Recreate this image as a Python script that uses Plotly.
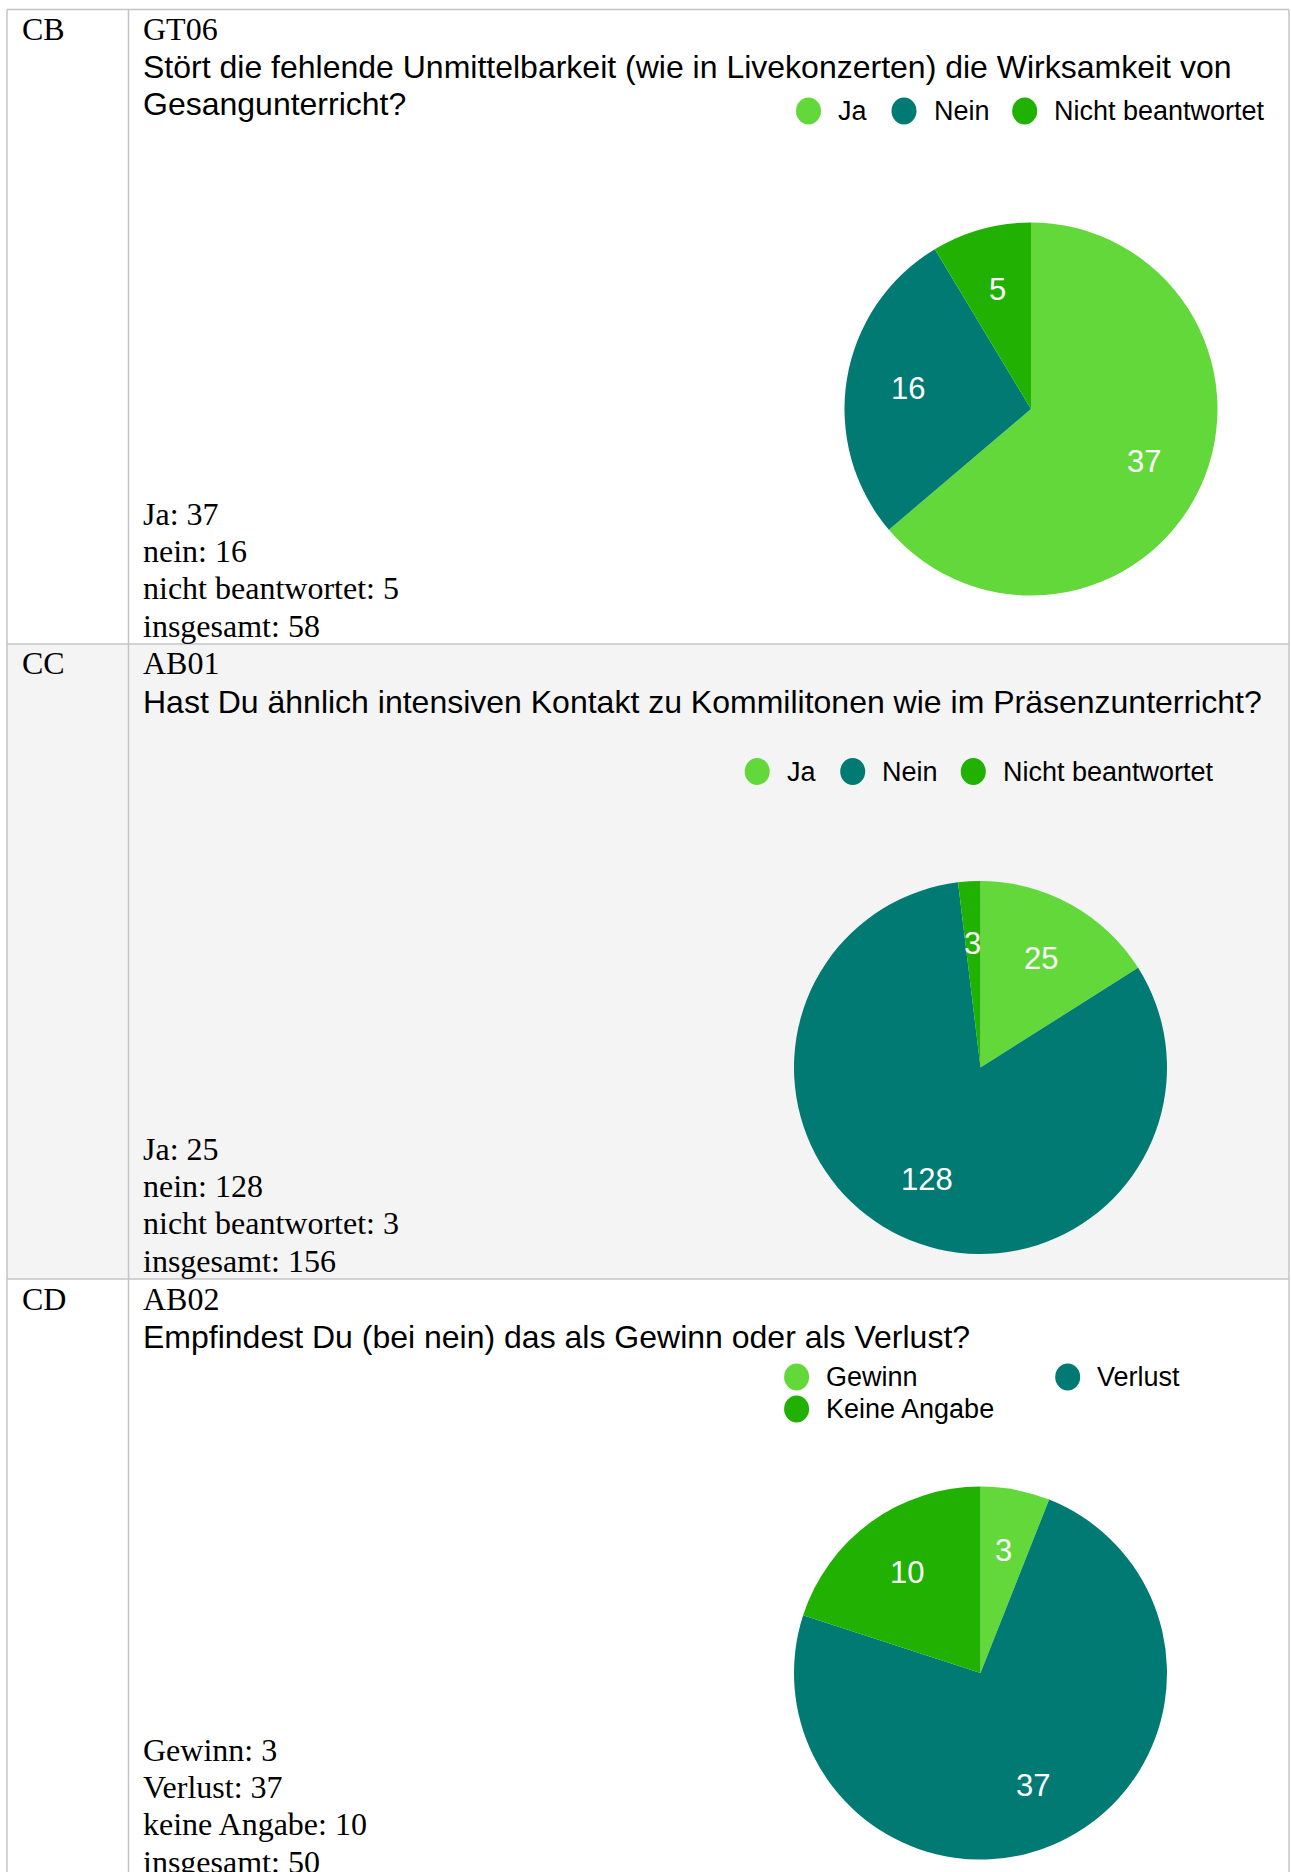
"""
Survey answer table: three questions, each with a summary and a pie chart.
"""

import math

import plotly.graph_objects as go

# Page size
W, H = 1291, 1872

SLICE_COLORS = ["#63d83a", "#007a73", "#20b103"]
GRID = "#c4c4c4"
ROW_SHADE = "#f4f4f4"
SANS = "Liberation Sans, Arial, Helvetica, sans-serif"
SERIF = "Liberation Serif, Times New Roman, serif"

# Data
row_ids = ["CB", "CC", "CD"]
question_codes = ["GT06", "AB01", "AB02"]
question_lines = [
    [
        "Stört die fehlende Unmittelbarkeit (wie in Livekonzerten) die Wirksamkeit von",
        "Gesangunterricht?",
    ],
    ["Hast Du ähnlich intensiven Kontakt zu Kommilitonen wie im Präsenzunterricht?"],
    ["Empfindest Du (bei nein) das als Gewinn oder als Verlust?"],
]

gt06_labels = ["Ja", "Nein", "Nicht beantwortet"]
gt06_values = [37, 16, 5]
ab01_labels = ["Ja", "Nein", "Nicht beantwortet"]
ab01_values = [25, 128, 3]
ab02_labels = ["Gewinn", "Verlust", "Keine Angabe"]
ab02_values = [3, 37, 10]

gt06_summary = ["Ja", "nein", "nicht beantwortet"]
ab01_summary = ["Ja", "nein", "nicht beantwortet"]
ab02_summary = ["Gewinn", "Verlust", "keine Angabe"]
total_label = "insgesamt"

slice_labels = [gt06_labels, ab01_labels, ab02_labels]
slice_values = [gt06_values, ab01_values, ab02_values]
summary_labels = [gt06_summary, ab01_summary, ab02_summary]

# Layout (pixels, measured from the top-left of the page)
row_tops = [9.5, 644, 1279]
table_left, col_divider, table_right = 7, 128.5, 1289
pie_centers = [(1031, 409), (980.5, 1067.5), (980.5, 1673)]
pie_radius = 186.5
label_radius = 0.667  # slice values sit at 2/3 of the radius
legend_slots = [
    [(808.5, 111), (904, 111), (1024.7, 111)],
    [(757.2, 771.5), (852.7, 771.5), (973.3, 771.5)],
    [(796.6, 1377), (1067.7, 1377), (796.6, 1409)],
]


def fx(x):
    return x / W


def fy(y):
    return 1 - y / H


fig = go.Figure()
shapes = []
annotations = []

# Shaded middle row
shapes.append(
    dict(
        type="rect", xref="paper", yref="paper", layer="below",
        x0=fx(table_left), x1=fx(table_right), y0=fy(row_tops[2]), y1=fy(row_tops[1]),
        fillcolor=ROW_SHADE, line=dict(width=0),
    )
)

# Table grid
for top in row_tops:
    shapes.append(
        dict(
            type="line", xref="paper", yref="paper",
            x0=fx(table_left), x1=fx(table_right), y0=fy(top), y1=fy(top),
            line=dict(color=GRID, width=1.5),
        )
    )
for x in [table_left, col_divider, table_right]:
    shapes.append(
        dict(
            type="line", xref="paper", yref="paper",
            x0=fx(x), x1=fx(x), y0=fy(row_tops[0]), y1=0,
            line=dict(color=GRID, width=1.5),
        )
    )

next_tops = row_tops[1:] + [1880]

for i in range(3):
    top = row_tops[i]

    # Row id and question code
    annotations.append(
        dict(
            text=row_ids[i], x=fx(20), y=fy(top + 19.5), xref="paper", yref="paper",
            xanchor="left", yanchor="middle", showarrow=False,
            font=dict(family=SERIF, size=32, color="#000000"),
        )
    )
    annotations.append(
        dict(
            text=question_codes[i], x=fx(141), y=fy(top + 19.5), xref="paper", yref="paper",
            xanchor="left", yanchor="middle", showarrow=False,
            font=dict(family=SERIF, size=32, color="#000000"),
        )
    )

    # Question text
    for j, line in enumerate(question_lines[i]):
        annotations.append(
            dict(
                text=line, x=fx(141), y=fy(top + 58 + 36 * j), xref="paper", yref="paper",
                xanchor="left", yanchor="middle", showarrow=False,
                font=dict(family=SANS, size=32, color="#000000"),
            )
        )

    # Summary counts
    lines = [f"{lab}: {val}" for lab, val in zip(summary_labels[i], slice_values[i])]
    lines.append(f"{total_label}: {sum(slice_values[i])}")
    bottom = next_tops[i] - 18.5
    for j, line in enumerate(lines):
        annotations.append(
            dict(
                text=line, x=fx(141), y=fy(bottom - 37.2 * (len(lines) - 1 - j)),
                xref="paper", yref="paper", xanchor="left", yanchor="middle",
                showarrow=False, font=dict(family=SERIF, size=32, color="#000000"),
            )
        )

    # Legend
    for label, color, (lx, ly) in zip(slice_labels[i], SLICE_COLORS, legend_slots[i]):
        shapes.append(
            dict(
                type="circle", xref="paper", yref="paper",
                x0=fx(lx - 12.5), x1=fx(lx + 12.5), y0=fy(ly + 13.5), y1=fy(ly - 13.5),
                fillcolor=color, line=dict(width=0),
            )
        )
        annotations.append(
            dict(
                text=label, x=fx(lx + 27.5), y=fy(ly), xref="paper", yref="paper",
                xanchor="left", yanchor="middle", showarrow=False,
                font=dict(family=SANS, size=27, color="#000000"),
            )
        )

    # Pie
    cx, cy = pie_centers[i]
    fig.add_trace(
        go.Pie(
            labels=slice_labels[i],
            values=slice_values[i],
            domain=dict(
                x=[fx(cx - pie_radius), fx(cx + pie_radius)],
                y=[fy(cy + pie_radius), fy(cy - pie_radius)],
            ),
            sort=False,
            direction="clockwise",
            rotation=0,
            marker=dict(colors=SLICE_COLORS, line=dict(width=0)),
            textinfo="none",
            hovertemplate="<b>%{label}</b><br>%{value} (%{percent})<extra></extra>",
            showlegend=False,
        )
    )

    # Slice values at mid-angle, 2/3 of the radius out
    total = sum(slice_values[i])
    running = 0
    for val in slice_values[i]:
        theta = 2 * math.pi * (running + val / 2) / total
        running += val
        tx = cx + label_radius * pie_radius * math.sin(theta)
        ty = cy - label_radius * pie_radius * math.cos(theta)
        annotations.append(
            dict(
                text=str(val), x=fx(tx), y=fy(ty), xref="paper", yref="paper",
                xanchor="center", yanchor="middle", showarrow=False,
                font=dict(family=SANS, size=31, color="#ffffff"),
            )
        )

fig.update_layout(
    width=W,
    height=H,
    margin=dict(l=0, r=0, t=0, b=0),
    paper_bgcolor="#ffffff",
    plot_bgcolor="#ffffff",
    showlegend=False,
    shapes=shapes,
    annotations=annotations,
    font=dict(family=SANS, color="#000000"),
)

fig.write_html(
    "out.html",
    config={"displayModeBar": False},
    post_script="document.body.style.margin='0';document.body.style.overflow='hidden';",
)
